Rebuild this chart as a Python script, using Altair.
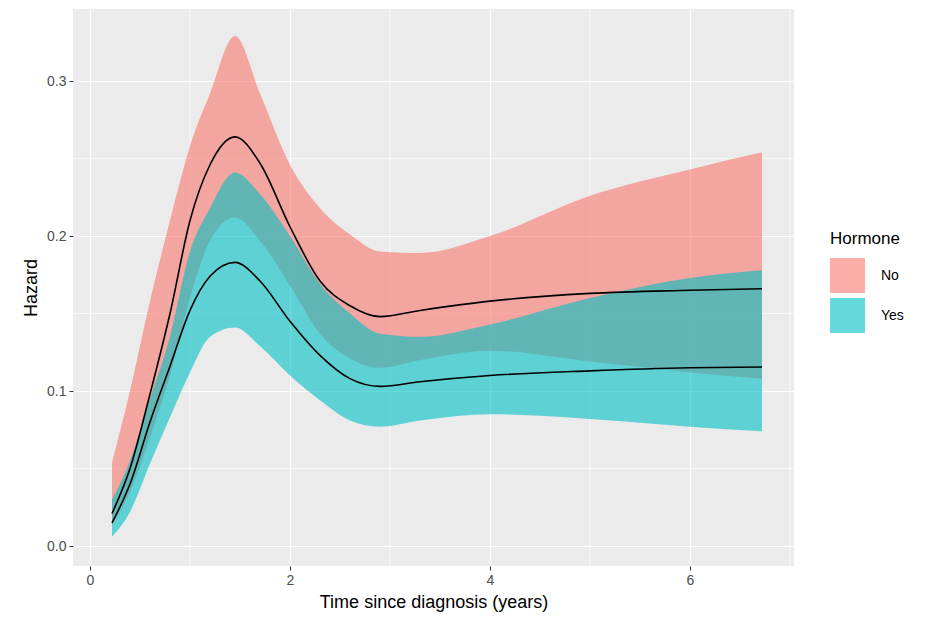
import altair as alt
import pandas as pd

xs = [0.22,0.4,0.6,0.8,1.0,1.2,1.45,1.7,2.0,2.3,2.6,2.9,3.3,4.0,5.0,6.0,6.72]
no_est = [0.021,0.05,0.098,0.15,0.21,0.246,0.264,0.247,0.206,0.171,0.155,0.148,0.152,0.158,0.163,0.165,0.166]
no_hi  = [0.054,0.1,0.158,0.21,0.258,0.292,0.329,0.292,0.246,0.218,0.201,0.19,0.189,0.2,0.226,0.243,0.254]
no_lo  = [0.013,0.035,0.07,0.11,0.16,0.197,0.212,0.197,0.168,0.137,0.121,0.115,0.12,0.126,0.119,0.112,0.108]
yes_est = [0.015,0.04,0.08,0.116,0.152,0.174,0.183,0.171,0.145,0.123,0.108,0.103,0.106,0.11,0.113,0.115,0.1155]
yes_hi  = [0.03,0.055,0.095,0.135,0.19,0.218,0.241,0.227,0.2,0.169,0.15,0.137,0.135,0.143,0.16,0.173,0.178]
yes_lo  = [0.006,0.022,0.053,0.083,0.112,0.135,0.141,0.129,0.11,0.094,0.081,0.077,0.081,0.085,0.082,0.077,0.074]

rows = []
for i, x in enumerate(xs):
    rows.append(dict(t=x, Hormone="No", est=no_est[i], lo=no_lo[i], hi=no_hi[i]))
    rows.append(dict(t=x, Hormone="Yes", est=yes_est[i], lo=yes_lo[i], hi=yes_hi[i]))
df = pd.DataFrame(rows)

xdom = [-0.17, 7.04]
ydom = [-0.0129, 0.3465]
xs_scale = alt.Scale(domain=xdom, nice=False, zero=False)
ys_scale = alt.Scale(domain=ydom, nice=False, zero=False)

minor_x = pd.DataFrame({"v": [1, 3, 5, 7]})
minor_y = pd.DataFrame({"v": [0.05, 0.15, 0.25]})

mx = alt.Chart(minor_x).mark_rule(color="white", strokeWidth=0.6).encode(x=alt.X("v:Q", scale=xs_scale))
my = alt.Chart(minor_y).mark_rule(color="white", strokeWidth=0.6).encode(y=alt.Y("v:Q", scale=ys_scale))

band = alt.Chart(df).mark_area(opacity=0.6, interpolate="monotone").encode(
    x=alt.X("t:Q", scale=xs_scale, title="Time since diagnosis (years)",
            axis=alt.Axis(values=[0, 2, 4, 6], format="d")),
    y=alt.Y("lo:Q", scale=ys_scale, title="Hazard",
            axis=alt.Axis(values=[0, 0.1, 0.2, 0.3], format=".1f")),
    y2="hi:Q",
    color=alt.Color("Hormone:N", scale=alt.Scale(domain=["No", "Yes"], range=["#F8766D", "#00BFC4"]),
                    legend=alt.Legend(orient="none", legendX=757, legendY=222,
                                      symbolType="square", symbolSize=1225, symbolOpacity=0.6,
                                      titleFontSize=17, labelFontSize=14, titleFontWeight="normal",
                                      titleColor="black", labelColor="black", symbolStrokeWidth=0,
                                      rowPadding=5, labelOffset=16, titlePadding=10)),
)
line = alt.Chart(df).mark_line(color="black", strokeWidth=1.6, interpolate="monotone").encode(
    x=alt.X("t:Q", scale=xs_scale), y=alt.Y("est:Q", scale=ys_scale), detail="Hormone:N")

chart = (mx + my + band + line).properties(
    width=721, height=557, padding={"left": 14, "top": 0, "right": 5, "bottom": 5}
).configure_view(
    fill="#EBEBEB", stroke=None
).configure_axis(
    grid=True, gridColor="white", gridWidth=1.2, domain=False, tickColor="#333333", tickSize=4,
    labelFontSize=14, labelColor="#4D4D4D", titleFontSize=18, titleFontWeight="normal",
    titleColor="black", labelFont="Liberation Sans", titleFont="Liberation Sans",
    labelPadding=3, titlePadding=6
).configure_legend(labelFont="Liberation Sans", titleFont="Liberation Sans")

chart.save("out.html", embed_options={"renderer": "svg", "actions": False})
